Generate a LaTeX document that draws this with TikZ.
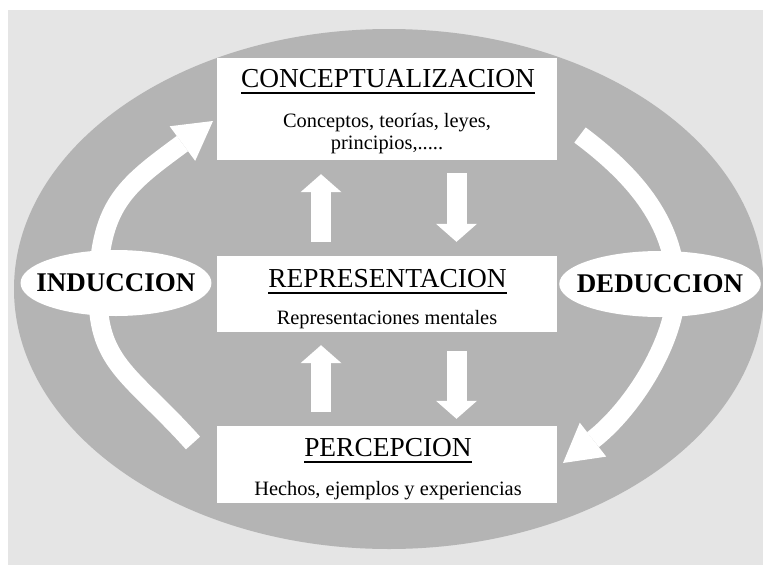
\documentclass[tikz,border=0pt]{standalone}
\usepackage{fontspec}
\setmainfont{Liberation Serif}
\usetikzlibrary{arrows.meta,shapes.geometric}
\definecolor{paper}{HTML}{E5E5E5}
\definecolor{disc}{HTML}{B4B4B4}
\newcommand{\ulhead}[1]{\setbox0\hbox{#1}\rlap{\rule[-6.5pt]{\wd0}{1.8pt}}\box0}

\begin{document}
\begin{tikzpicture}[x=1pt,y=-1pt,
    panel/.style={fill=white,minimum width=340pt,inner sep=0pt},
    heading/.style={anchor=base,inner sep=0pt,font=\fontsize{27.4}{30}\selectfont},
    subtext/.style={anchor=base,inner sep=0pt,align=center,font=\fontsize{20.4}{22}\selectfont},
    oval/.style={ellipse,fill=white,inner xsep=-12pt,inner ysep=0pt,minimum width=190pt,minimum height=66pt,font=\fontsize{27}{30}\selectfont\bfseries},
    vertarrow/.style={white,line width=20pt,-{Triangle[width=41pt,length=18pt,line width=0pt]}},
    sidearrow/.style={white,line width=19pt,-{Triangle[width=43pt,length=38pt,line width=0pt]}}]
  \useasboundingbox (0,0) rectangle (763,565);
  \fill[paper] (8,10) rectangle (763,565);
  \fill[disc] (389,289) ellipse [x radius=375pt,y radius=260pt];

  % inducción / deducción
  \coordinate (ind-from) at (193,443);
  \coordinate (ind-mid) at (98,295);
  \coordinate (ind-to) at (213,121);
  \draw[sidearrow] (ind-from) .. controls (133,376) and (98,365) .. (ind-mid)
    .. controls (98,205) and (124.5,186.3) .. (ind-to);
  \coordinate (ded-from) at (580,135);
  \coordinate (ded-mid) at (676,289);
  \coordinate (ded-to) at (563,463);
  \draw[sidearrow] (ded-from) .. controls (628,171) and (676,219) .. (ded-mid)
    .. controls (676,339) and (634.1,407.65) .. (ded-to);

  \node[oval] (ind) at (116,283) {INDUCCION};
  \node[oval] (ded) at (660,284) {DEDUCCION};

  \node[panel,minimum height=102pt] (conc) at (387,109) {};
  \node[panel,minimum height=76pt] (repr) at (387,294) {};
  \node[panel,minimum height=77pt] (perc) at (387,464.5) {};

  \node[heading] (conc-h) at (388,87) {\ulhead{CONCEPTUALIZACION}};
  \node[subtext] (conc-s) at (387,149.5) {Conceptos, teorías, leyes,\\principios,.....};
  \node[heading] (repr-h) at (387.5,287) {\ulhead{REPRESENTACION}};
  \node[subtext] (repr-s) at (387,324) {Representaciones mentales};
  \node[heading] (perc-h) at (388,456) {\ulhead{PERCEPCION}};
  \node[subtext] (perc-s) at (388,495.5) {Hechos, ejemplos y experiencias};

  \draw[vertarrow,shorten <=14pt,shorten >=14pt] ([xshift=-66pt]repr.north) -- ([xshift=-66pt]conc.south);
  \draw[vertarrow,shorten <=13pt,shorten >=14pt] ([xshift=69.5pt]conc.south) -- ([xshift=69.5pt]repr.north);
  \draw[vertarrow,shorten <=14pt,shorten >=13pt] ([xshift=-66pt]perc.north) -- ([xshift=-66pt]repr.south);
  \draw[vertarrow,shorten <=19pt,shorten >=7pt] ([xshift=69.5pt]repr.south) -- ([xshift=69.5pt]perc.north);
\end{tikzpicture}
\end{document}
